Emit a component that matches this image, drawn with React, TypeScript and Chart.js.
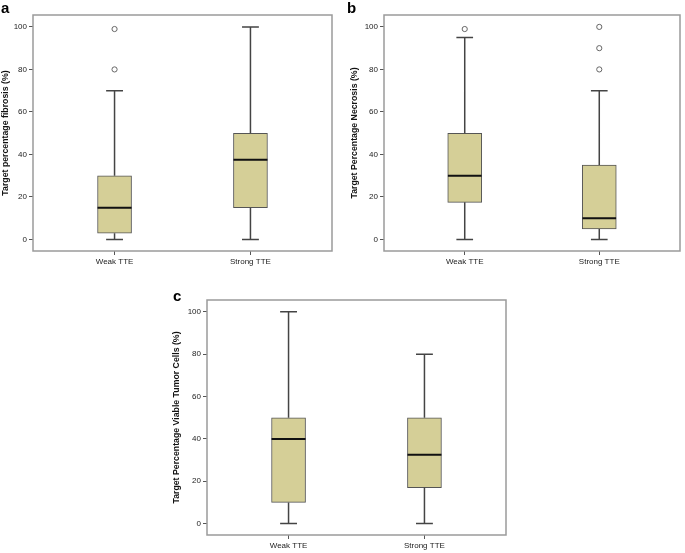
import React, { useEffect, useRef } from "react";
import { Chart, registerables } from "chart.js";
Chart.register(...registerables);

const categories = ["Weak TTE", "Strong TTE"];
const yTickValues = [0, 20, 40, 60, 80, 100];

// five-number summaries: [min, Q1, median, Q3, max]
const fibrosisWeak = [0, 3, 15, 30, 70];
const fibrosisStrong = [0, 15, 37.5, 50, 100];
const fibrosisOutliersWeak = [80, 99];
const fibrosisOutliersStrong: number[] = [];

const necrosisWeak = [0, 17.5, 30, 50, 95];
const necrosisStrong = [0, 5, 10, 35, 70];
const necrosisOutliersWeak = [99];
const necrosisOutliersStrong = [80, 90, 100];

const viableWeak = [0, 10, 40, 50, 100];
const viableStrong = [0, 17, 32.5, 50, 80];
const viableOutliersWeak: number[] = [];
const viableOutliersStrong: number[] = [];

const FONT = "'Liberation Sans', Arial, Helvetica, sans-serif";
const BOX_HALF = 0.125;
const CAP_HALF = 0.062;
const X_MIN = -0.6;
const X_MAX = 1.6;

function buildDatasets(stats: number[][], outliers: number[][]) {
  const boxes = stats.map((s, i) => ({ x: i, y: [s[1], s[3]] }));
  const whiskers: any[] = [];
  const medians: any[] = [];
  stats.forEach((s, i) => {
    whiskers.push({ x: i, y: s[3] }, { x: i, y: s[4] }, { x: i, y: null });
    whiskers.push({ x: i, y: s[0] }, { x: i, y: s[1] }, { x: i, y: null });
    whiskers.push({ x: i - CAP_HALF, y: s[4] }, { x: i + CAP_HALF, y: s[4] }, { x: i, y: null });
    whiskers.push({ x: i - CAP_HALF, y: s[0] }, { x: i + CAP_HALF, y: s[0] }, { x: i, y: null });
    medians.push({ x: i - BOX_HALF, y: s[2] }, { x: i + BOX_HALF, y: s[2] }, { x: i, y: null });
  });
  const outPts = outliers.flatMap((arr, i) => arr.map((v) => ({ x: i, y: v })));
  return [
    {
      type: "line",
      data: medians,
      borderColor: "#111",
      borderWidth: 2,
      pointRadius: 0,
      spanGaps: false,
      order: 0,
    },
    {
      type: "line",
      data: outPts,
      showLine: false,
      pointRadius: 2.6,
      pointBackgroundColor: "#fff",
      pointBorderColor: "#666",
      pointBorderWidth: 1,
      order: 0,
    },
    {
      type: "line",
      data: whiskers,
      borderColor: "#444",
      borderWidth: 1.5,
      pointRadius: 0,
      spanGaps: false,
      order: 1,
    },
    {
      type: "bar",
      data: boxes,
      backgroundColor: "#d5cf97",
      borderColor: "#555",
      borderWidth: 1,
      borderSkipped: false,
      barThickness: 34,
      order: 2,
    },
  ];
}

const framePlugin = {
  id: "frame",
  afterDraw(chart: any) {
    const { ctx, chartArea: a } = chart;
    ctx.save();
    ctx.strokeStyle = "#9a9a9a";
    ctx.lineWidth = 1.5;
    ctx.strokeRect(a.left, a.top, a.right - a.left, a.bottom - a.top);
    ctx.restore();
  },
};

type PanelProps = {
  left: number;
  top: number;
  width: number;
  height: number;
  areaLeft: number;
  areaTop: number;
  areaRight: number;
  areaBottom: number;
  titleX: number;
  title: string;
  stats: number[][];
  outliers: number[][];
};

function Panel(p: PanelProps) {
  const ref = useRef<HTMLCanvasElement | null>(null);
  useEffect(() => {
    if (!ref.current) return;
    const chart = new Chart(ref.current, {
      type: "bar",
      data: { datasets: buildDatasets(p.stats, p.outliers) as any },
      options: {
        animation: false,
        responsive: false,
        devicePixelRatio: 1,
        layout: {
          padding: {
            left: 0,
            top: p.areaTop,
            right: p.width - p.areaRight,
            bottom: 0,
          },
        },
        plugins: { legend: { display: false }, tooltip: { enabled: false } },
        scales: {
          x: {
            type: "linear",
            min: X_MIN,
            max: X_MAX,
            offset: false,
            afterBuildTicks: (axis: any) => {
              axis.ticks = categories.map((_, i) => ({ value: i }));
            },
            afterFit: (axis: any) => {
              axis.height = p.height - p.areaBottom;
            },
            ticks: {
              callback: (v: any) => categories[v as number] ?? "",
              font: { family: FONT, size: 8 },
              color: "#222",
              padding: 2,
              maxRotation: 0,
            },
            grid: { offset: false, drawOnChartArea: false, drawTicks: true, tickLength: 4, color: "#555" },
            border: { display: false },
          },
          y: {
            type: "linear",
            min: -5.4,
            max: 105.6,
            afterBuildTicks: (axis: any) => {
              axis.ticks = yTickValues.map((v) => ({ value: v }));
            },
            afterFit: (axis: any) => {
              axis.width = p.areaLeft;
            },
            ticks: {
              font: { family: FONT, size: 8 },
              color: "#222",
              padding: 2,
            },
            grid: { drawOnChartArea: false, drawTicks: true, tickLength: 4, color: "#555" },
            border: { display: false },
            title: {
              display: true,
              text: p.title,
              font: { family: FONT, size: 8.75, weight: "bold" },
              color: "#111",
              padding: { top: p.titleX - 5.25, bottom: 0 },
            },
          },
        },
      },
      plugins: [framePlugin],
    } as any);
    return () => chart.destroy();
  }, []);
  return (
    <canvas
      ref={ref}
      width={p.width}
      height={p.height}
      style={{ position: "absolute", left: p.left, top: p.top, width: p.width, height: p.height }}
    />
  );
}

const letterStyle = (left: number, top: number): React.CSSProperties => ({
  position: "absolute",
  left,
  top,
  fontFamily: FONT,
  fontWeight: "bold",
  fontSize: 15,
  lineHeight: "15px",
  color: "#000",
});

export default function App() {
  return (
    <div style={{ position: "absolute", left: 0, top: 0, width: 685, height: 553, background: "#fff", overflow: "hidden" }}>
      <Panel
        left={0}
        top={0}
        width={345}
        height={275}
        areaLeft={33}
        areaTop={15}
        areaRight={332}
        areaBottom={251}
        titleX={5.5}
        title="Target percentage fibrosis (%)"
        stats={[fibrosisWeak, fibrosisStrong]}
        outliers={[fibrosisOutliersWeak, fibrosisOutliersStrong]}
      />
      <Panel
        left={345}
        top={0}
        width={340}
        height={275}
        areaLeft={39}
        areaTop={15}
        areaRight={337}
        areaBottom={251}
        titleX={10}
        title="Target Percentage Necrosis (%)"
        stats={[necrosisWeak, necrosisStrong]}
        outliers={[necrosisOutliersWeak, necrosisOutliersStrong]}
      />
      <Panel
        left={160}
        top={285}
        width={360}
        height={268}
        areaLeft={47}
        areaTop={15}
        areaRight={346}
        areaBottom={250}
        titleX={17}
        title="Target Percentage Viable Tumor Cells (%)"
        stats={[viableWeak, viableStrong]}
        outliers={[viableOutliersWeak, viableOutliersStrong]}
      />
      <div style={letterStyle(1, 0)}>a</div>
      <div style={letterStyle(347, 0)}>b</div>
      <div style={letterStyle(173, 288)}>c</div>
    </div>
  );
}
